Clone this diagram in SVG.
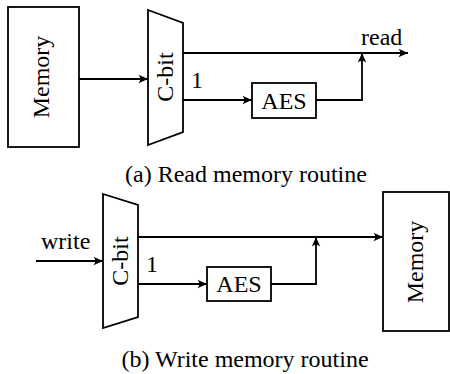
<svg xmlns="http://www.w3.org/2000/svg" width="450" height="374" viewBox="0 0 450 374">
  <defs>
    <marker id="arrow" markerWidth="12" markerHeight="10" refX="10" refY="5" orient="auto" markerUnits="userSpaceOnUse">
      <path d="M10,5 L0.5,0.8 Q4,5 0.5,9.2 Z" fill="#000"/>
    </marker>
  </defs>
  <style>
    .box { fill: #fff; stroke: #000; stroke-width: 1.8; }
    .wire { fill: none; stroke: #000; stroke-width: 1.8; }
    .lbl { font-family: "Liberation Serif", "Times New Roman", serif; font-size: 24px; fill: #000; }
    .mid { text-anchor: middle; }
  </style>

  <rect x="0" y="0" width="450" height="374" fill="#fff"/>

  <!-- (a) read routine -->
  <g id="memA">
    <rect class="box" x="8" y="7" width="71" height="140"/>
    <text class="lbl mid" transform="translate(49,77) rotate(-90)">Memory</text>
  </g>
  <g id="muxA">
    <polygon class="box" points="148,10 183,23 183,132 148,145"/>
    <text class="lbl mid" transform="translate(173,77) rotate(-90)">C-bit</text>
  </g>
  <g id="aesA">
    <rect class="box" x="252" y="83" width="64" height="35"/>
    <text class="lbl mid" x="284" y="109">AES</text>
  </g>

  <!-- (b) write routine -->
  <g id="muxB">
    <polygon class="box" points="103,194 138,205 138,317 103,328"/>
    <text class="lbl mid" transform="translate(128,261) rotate(-90)">C-bit</text>
  </g>
  <g id="aesB">
    <rect class="box" x="207" y="267" width="64" height="34"/>
    <text class="lbl mid" x="239" y="292">AES</text>
  </g>
  <g id="memB">
    <rect class="box" x="383" y="192" width="66" height="139"/>
    <text class="lbl mid" transform="translate(423,262) rotate(-90)">Memory</text>
  </g>

  <g id="connectors">
    <line class="wire" x1="79" y1="79" x2="148" y2="79" marker-end="url(#arrow)"/>
    <line class="wire" x1="183" y1="53" x2="408" y2="53" marker-end="url(#arrow)"/>
    <line class="wire" x1="183" y1="100" x2="252" y2="100" marker-end="url(#arrow)"/>
    <polyline class="wire" points="316,100 362,100 362,53" marker-end="url(#arrow)"/>

    <line class="wire" x1="36" y1="261" x2="103" y2="261" marker-end="url(#arrow)"/>
    <line class="wire" x1="138" y1="237" x2="383" y2="237" marker-end="url(#arrow)"/>
    <line class="wire" x1="138" y1="284" x2="207" y2="284" marker-end="url(#arrow)"/>
    <polyline class="wire" points="271,284 316,284 316,237" marker-end="url(#arrow)"/>
  </g>

  <g id="labels">
    <text class="lbl" x="361" y="45">read</text>
    <text class="lbl" x="191" y="88">1</text>
    <text class="lbl" x="41" y="249">write</text>
    <text class="lbl" x="146" y="272">1</text>
    <text class="lbl mid" x="246" y="182">(a) Read memory routine</text>
    <text class="lbl mid" x="245" y="367">(b) Write memory routine</text>
  </g>
</svg>
